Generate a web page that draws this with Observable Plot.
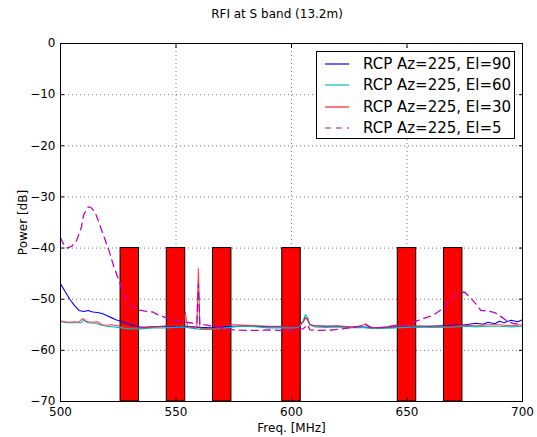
<!DOCTYPE html>
<html>
<head>
<meta charset="utf-8">
<script src="https://cdn.jsdelivr.net/npm/d3@7"></script>
<script src="https://cdn.jsdelivr.net/npm/@observablehq/plot@0.6"></script>
<style>
  body { margin: 0; background: #fff; font-family: "DejaVu Sans", sans-serif; }
  #wrap { position: relative; width: 537px; height: 437px; }
  #title { height: 30px; font-size: 12px; line-height: 1; padding-top: 8px; box-sizing: border-box; text-align: center; padding-left: 17px; color: #000; }
  #legend { position: absolute; left: 316px; top: 51px; width: 199px; height: 88px; border: 1px solid #000; background: #fff; box-sizing: border-box; }
  .row { position: absolute; left: 0; height: 20px; width: 100%; font-size: 15px; line-height: 20px; }
  .row svg { position: absolute; left: 8px; top: 0; }
  .row span { position: absolute; left: 46px; top: 0; white-space: nowrap; }
</style>
</head>
<body>
<div id="wrap">
  <div id="title">RFI at S band (13.2m)</div>
  <div id="chart"></div>
  <div id="legend"></div>
</div>
<script>
const title = "RFI at S band (13.2m)";
const xTicks = [500, 550, 600, 650, 700];
const yTicks = [-70, -60, -50, -40, -30, -20, -10, 0];
const seriesNames = ["RCP Az=225, El=90", "RCP Az=225, El=60", "RCP Az=225, El=30", "RCP Az=225, El=5"];
const seriesColors = ["#0000ff", "#00bfbf", "#ff2020", "#bf00bf"];

// RFI bands (MHz) drawn as red bars from -70 to -40 dB
const bandStart = [526, 546, 566, 596, 646, 666];
const bandEnd   = [534, 554, 574, 604, 654, 674];
const bandTop = -40;
const bandBottom = -70;

// El=90
const freq90 = [500,502,504,506,508,510,512,514,516,518,520,522,524,526,528,530,532,534,536,540,545,550,555,560,565,570,575,580,585,590,595,600,603,605,606,607,608,610,615,620,625,630,635,640,645,650,655,660,665,670,675,680,683,685,688,690,692,695,698,700];
const pow90  = [-47,-48.5,-50,-51.2,-52.2,-52.4,-52.2,-52.5,-52.6,-52.8,-53.2,-53.6,-54,-54.3,-54.6,-54.9,-55.2,-55.4,-55.5,-55.4,-55.3,-55.4,-55.3,-55.5,-55.6,-55.4,-55.3,-55.2,-55.3,-55.4,-55.4,-55.4,-55.3,-54.4,-53.6,-54,-55,-55.2,-55.3,-55.3,-55.5,-55.4,-55.6,-55.5,-55.4,-55.5,-55.4,-55.3,-55.2,-55.1,-55,-54.7,-54.9,-54.5,-54.8,-54.3,-54.6,-54.1,-54.4,-54];

// El=60
const freq60 = [500,503,506,509,510,512,515,518,520,525,530,535,540,545,550,553,556,559,561,565,570,575,580,585,590,595,600,603,605,606,607,608,610,615,620,625,630,635,640,645,650,655,660,665,670,675,680,685,690,695,700];
const pow60  = [-54.4,-54.6,-54.6,-54.6,-54.1,-54.6,-54.7,-55.1,-55.3,-55.5,-55.8,-55.8,-55.6,-55.6,-55.5,-55.4,-55.6,-55.8,-55.9,-55.9,-55.7,-55.4,-55.3,-55.4,-55.6,-55.6,-55.6,-55.5,-54.3,-53,-53.6,-55,-55.4,-55.5,-55.4,-55.6,-55.5,-55.7,-55.7,-55.6,-55.5,-55.4,-55.5,-55.5,-55.4,-55.3,-55.4,-55.3,-55.3,-55.4,-55.3];

// El=30
const freq30 = [500,502,504,506,508,509,510,511,513,516,518,520,522,525,530,535,540,545,550,553,554,555,557,559,559.7,560.3,562,565,568,570,573,576,580,585,590,595,600,603,605,606,607,608,610,615,620,625,630,632,634,638,642,646,650,655,660,665,670,675,680,685,690,695,700];
const pow30  = [-54.2,-54.4,-54.5,-54.4,-54.5,-54,-53.8,-54.3,-54.5,-54.4,-55,-55.1,-55,-55.2,-55.5,-55.6,-55.4,-55.3,-55.2,-55,-52.6,-55.3,-55.5,-55.6,-44,-55.6,-55.8,-55.8,-55.7,-55.2,-55,-55,-55.1,-55.2,-55.3,-55.3,-55.4,-55.4,-54.5,-53.6,-54,-55,-55.2,-55.3,-55.2,-55.4,-55.3,-54.8,-55.5,-55.6,-55.4,-55.3,-55.2,-55.2,-55.3,-55.3,-55.3,-55.1,-55.2,-55,-55,-55.2,-55];

// El=5
const freq5 = [500,501,503,505,507,509,510,512,513,515,517,519,521,523,525,527,529,531,533,536,540,542,545,548,552,556,559,559.7,560.3,563,566,570,575,580,585,590,595,600,605,607,608,612,618,622,627,632,635,640,645,650,654,657,661,665,668,670,672,675,677,680,682,685,688,691,694,697,700];
const pow5  = [-38,-39,-40,-39.6,-38.5,-36,-33.5,-32,-32,-33,-35.5,-38,-40.5,-43.5,-46,-48.5,-50.5,-51.5,-52,-52.3,-52.5,-53,-53.5,-54,-54.3,-54.6,-54.8,-47,-55,-55,-55.3,-55.7,-56,-56.1,-56.1,-56,-56.1,-56.1,-55.8,-55,-56,-56.1,-56,-55.8,-55.5,-55,-55.6,-55.5,-55.1,-55,-54.3,-53.8,-53.2,-52,-50.5,-49.5,-48.7,-48.6,-49.5,-51,-52.2,-52.3,-52.6,-53.5,-54.5,-54.8,-55];

const bands = bandStart.map((s, i) => ({x1: s, x2: bandEnd[i], y1: bandBottom, y2: bandTop}));
const mk = (f, p) => f.map((x, i) => ({x, y: p[i]}));
const s90 = mk(freq90, pow90), s60 = mk(freq60, pow60), s30 = mk(freq30, pow30), s5 = mk(freq5, pow5);
const noText = () => "";

const chart = Plot.plot({
  width: 537,
  height: 407,
  marginTop: 13,
  marginRight: 15,
  marginBottom: 36,
  marginLeft: 60,
  style: {fontFamily: "DejaVu Sans, sans-serif", fontSize: "12px", color: "#000", background: "#fff"},
  x: {domain: [500, 700]},
  y: {domain: [-70, 0]},
  marks: [
    Plot.gridX(xTicks.slice(1, -1), {stroke: "#777", strokeOpacity: 1, strokeDasharray: "1,3"}),
    Plot.gridY(yTicks.slice(1, -1), {stroke: "#777", strokeOpacity: 1, strokeDasharray: "1,3"}),
    Plot.rect(bands, {x1: "x1", x2: "x2", y1: "y1", y2: "y2", fill: "#ff0000", stroke: "#000", strokeWidth: 1}),
    Plot.line(s90, {x: "x", y: "y", stroke: seriesColors[0], strokeWidth: 1.1}),
    Plot.line(s60, {x: "x", y: "y", stroke: seriesColors[1], strokeWidth: 1.1}),
    Plot.line(s30, {x: "x", y: "y", stroke: seriesColors[2], strokeWidth: 1.1, strokeOpacity: 0.85}),
    Plot.line(s5, {x: "x", y: "y", stroke: seriesColors[3], strokeWidth: 1.3, strokeDasharray: "7,5"}),
    Plot.axisX(xTicks, {anchor: "bottom", tickSize: 0, tickPadding: 6, label: "Freq. [MHz]", labelAnchor: "center", labelArrow: "none", labelOffset: 30, fontSize: 12}),
    Plot.axisY(yTicks, {anchor: "left", tickSize: 0, tickPadding: 5, label: "Power [dB]", labelAnchor: "center", labelArrow: "none", labelOffset: 42, fontSize: 12, tickFormat: d => d < 0 ? "\u2212" + Math.abs(d) : String(d)}),
    Plot.axisX(xTicks, {anchor: "bottom", tickSize: -4, tickFormat: noText, label: null}),
    Plot.axisX(xTicks, {anchor: "top", tickSize: -4, tickFormat: noText, label: null}),
    Plot.axisY(yTicks, {anchor: "left", tickSize: -4, tickFormat: noText, label: null}),
    Plot.axisY(yTicks, {anchor: "right", tickSize: -4, tickFormat: noText, label: null}),
    Plot.frame({stroke: "#000", strokeWidth: 1})
  ]
});
document.getElementById("chart").appendChild(chart);

const legend = document.getElementById("legend");
const rowTops = [2, 23, 45, 66];
seriesNames.forEach((name, i) => {
  const row = document.createElement("div");
  row.className = "row";
  row.style.top = rowTops[i] + "px";
  const dash = i === 3 ? ' stroke-dasharray="6,5"' : '';
  row.innerHTML = `<svg width="26" height="20"><line x1="0" x2="24" y1="10" y2="10" stroke="${seriesColors[i]}" stroke-width="1.2"${dash}/></svg><span>${name}</span>`;
  legend.appendChild(row);
});
</script>
</body>
</html>
